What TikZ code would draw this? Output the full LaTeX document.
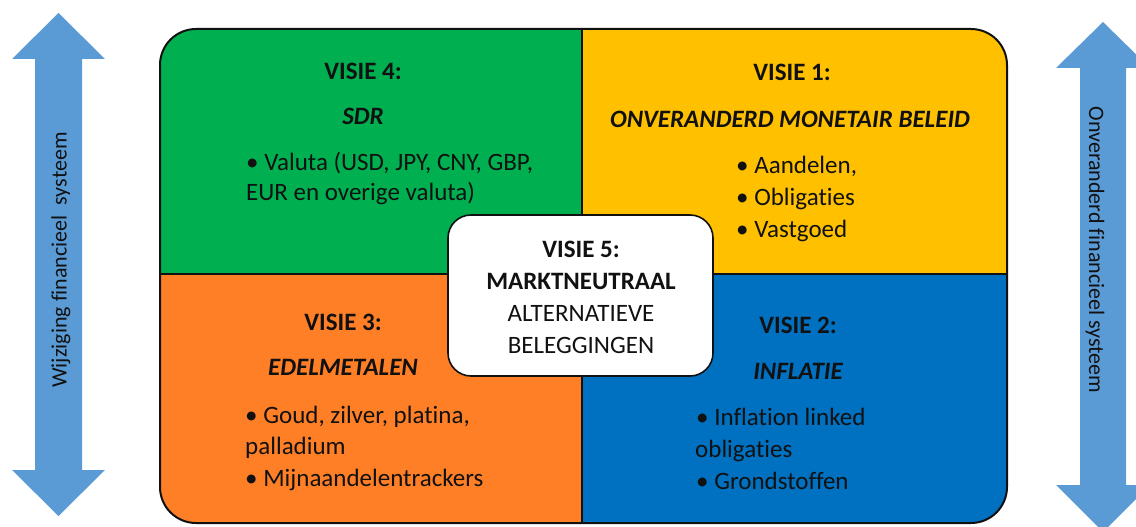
\documentclass[tikz,border=0pt]{standalone}
\usepackage{fontspec}
\setmainfont{Carlito}[Ligatures={NoCommon}]
\definecolor{arrowblue}{HTML}{5B9BD5}
\definecolor{qgreen}{HTML}{00B050}
\definecolor{qyellow}{HTML}{FFC000}
\definecolor{qorange}{HTML}{FF7F27}
\definecolor{qblue}{HTML}{0070C0}
\definecolor{ink}{HTML}{111111}
\begin{document}
\begin{tikzpicture}[x=1pt,y=-1pt,
  txt/.style={font=\fontsize{25}{29}\selectfont, inner sep=0pt, text=ink},
  head/.style={txt, font=\fontsize{25}{29}\selectfont\bfseries, anchor=mid},
  title/.style={txt, font=\fontsize{25}{29}\selectfont\bfseries\itshape, anchor=mid},
  item/.style={txt, anchor=mid west},
  ctr/.style={txt, anchor=mid},
  arrowtxt/.style={txt, font=\fontsize{22}{26}\selectfont, anchor=center},
  outline/.style={draw=ink, line width=2pt},
  quad/.style={rounded corners=36pt}]
\path[use as bounding box] (0,0) rectangle (1136,527);
\clip (0,0) rectangle (1136,527);

% side arrows
\fill[arrowblue] (58.5,13) -- (105,59) -- (82,59) -- (82,470) -- (105,470) -- (58.5,516)
  -- (12,470) -- (35,470) -- (35,59) -- (12,59) -- cycle;
\node[arrowtxt, rotate=90] (lt) at (61,260) {Wijziging financieel\ \ systeem};
\fill[arrowblue] (1103,22) -- (1150,68) -- (1126,68) -- (1126,485) -- (1150,485) -- (1103,532)
  -- (1056,485) -- (1080,485) -- (1080,68) -- (1056,68) -- cycle;
\node[arrowtxt, rotate=-90] (rt) at (1095,250) {Onveranderd financieel systeem};

% quadrants
\begin{scope}\clip (150,20) rectangle (582,274); \fill[qgreen, quad] (160,29) rectangle (1007,523);\end{scope}
\begin{scope}\clip (582,20) rectangle (1020,274); \fill[qyellow, quad] (160,29) rectangle (1007,523);\end{scope}
\begin{scope}\clip (150,274) rectangle (582,530); \fill[qorange, quad] (160,29) rectangle (1007,523);\end{scope}
\begin{scope}\clip (582,274) rectangle (1020,530); \fill[qblue, quad] (160,29) rectangle (1007,523);\end{scope}
\draw[outline, quad] (160,29) rectangle (1007,523);
\coordinate (vt) at (582,29);
\coordinate (vb) at (582,523);
\coordinate (hl) at (160,274);
\coordinate (hr) at (1007,274);
\draw[outline] (vt) -- (vb);
\draw[outline] (hl) -- (hr);

% VISIE 5 box
\node[draw=ink, line width=1.6pt, fill=white, rounded corners=23pt, minimum width=265pt,
  minimum height=161pt, inner sep=0pt] (c) at (580.5,295.5) {};

\begin{scope}[yshift=-5pt]
% VISIE 4
\node[head] (v4) at (363,72) {VISIE 4:};
\node[title] (v4t) at (363,117) {SDR};
\node[item] (v4a) at (246,163) {• Valuta (USD, JPY, CNY, GBP,};
\node[item] (v4b) at (246,193) {EUR en overige valuta)};

% VISIE 1
\node[head] (v1) at (792,73) {VISIE 1:};
\node[title] (v1t) at (790,120) {ONVERANDERD MONETAIR BELEID};
\node[item] (v1a) at (736,166) {• Aandelen,};
\node[item] (v1b) at (736,198) {• Obligaties};
\node[item] (v1c) at (736,230) {• Vastgoed};

% VISIE 3
\node[head] (v3) at (343,323) {VISIE 3:};
\node[title] (v3t) at (343,368) {EDELMETALEN};
\node[item] (v3a) at (245,416) {• Goud, zilver, platina,};
\node[item] (v3b) at (245,447) {palladium};
\node[item] (v3c) at (245,479) {• Mijnaandelentrackers};

% VISIE 2
\node[head] (v2) at (798,326) {VISIE 2:};
\node[title] (v2t) at (798,372) {INFLATIE};
\node[item] (v2a) at (696,418) {• Inflation linked};
\node[item] (v2b) at (695,450) {obligaties};
\node[item] (v2c) at (696,482) {• Grondstoffen};

% VISIE 5
\node[head] (v5) at (581,250) {VISIE 5:};
\node[head] (v5t) at (581,282) {MARKTNEUTRAAL};
\node[ctr] (v5a) at (581,314) {ALTERNATIEVE};
\node[ctr] (v5b) at (581,346) {BELEGGINGEN};
\end{scope}
\end{tikzpicture}
\end{document}
